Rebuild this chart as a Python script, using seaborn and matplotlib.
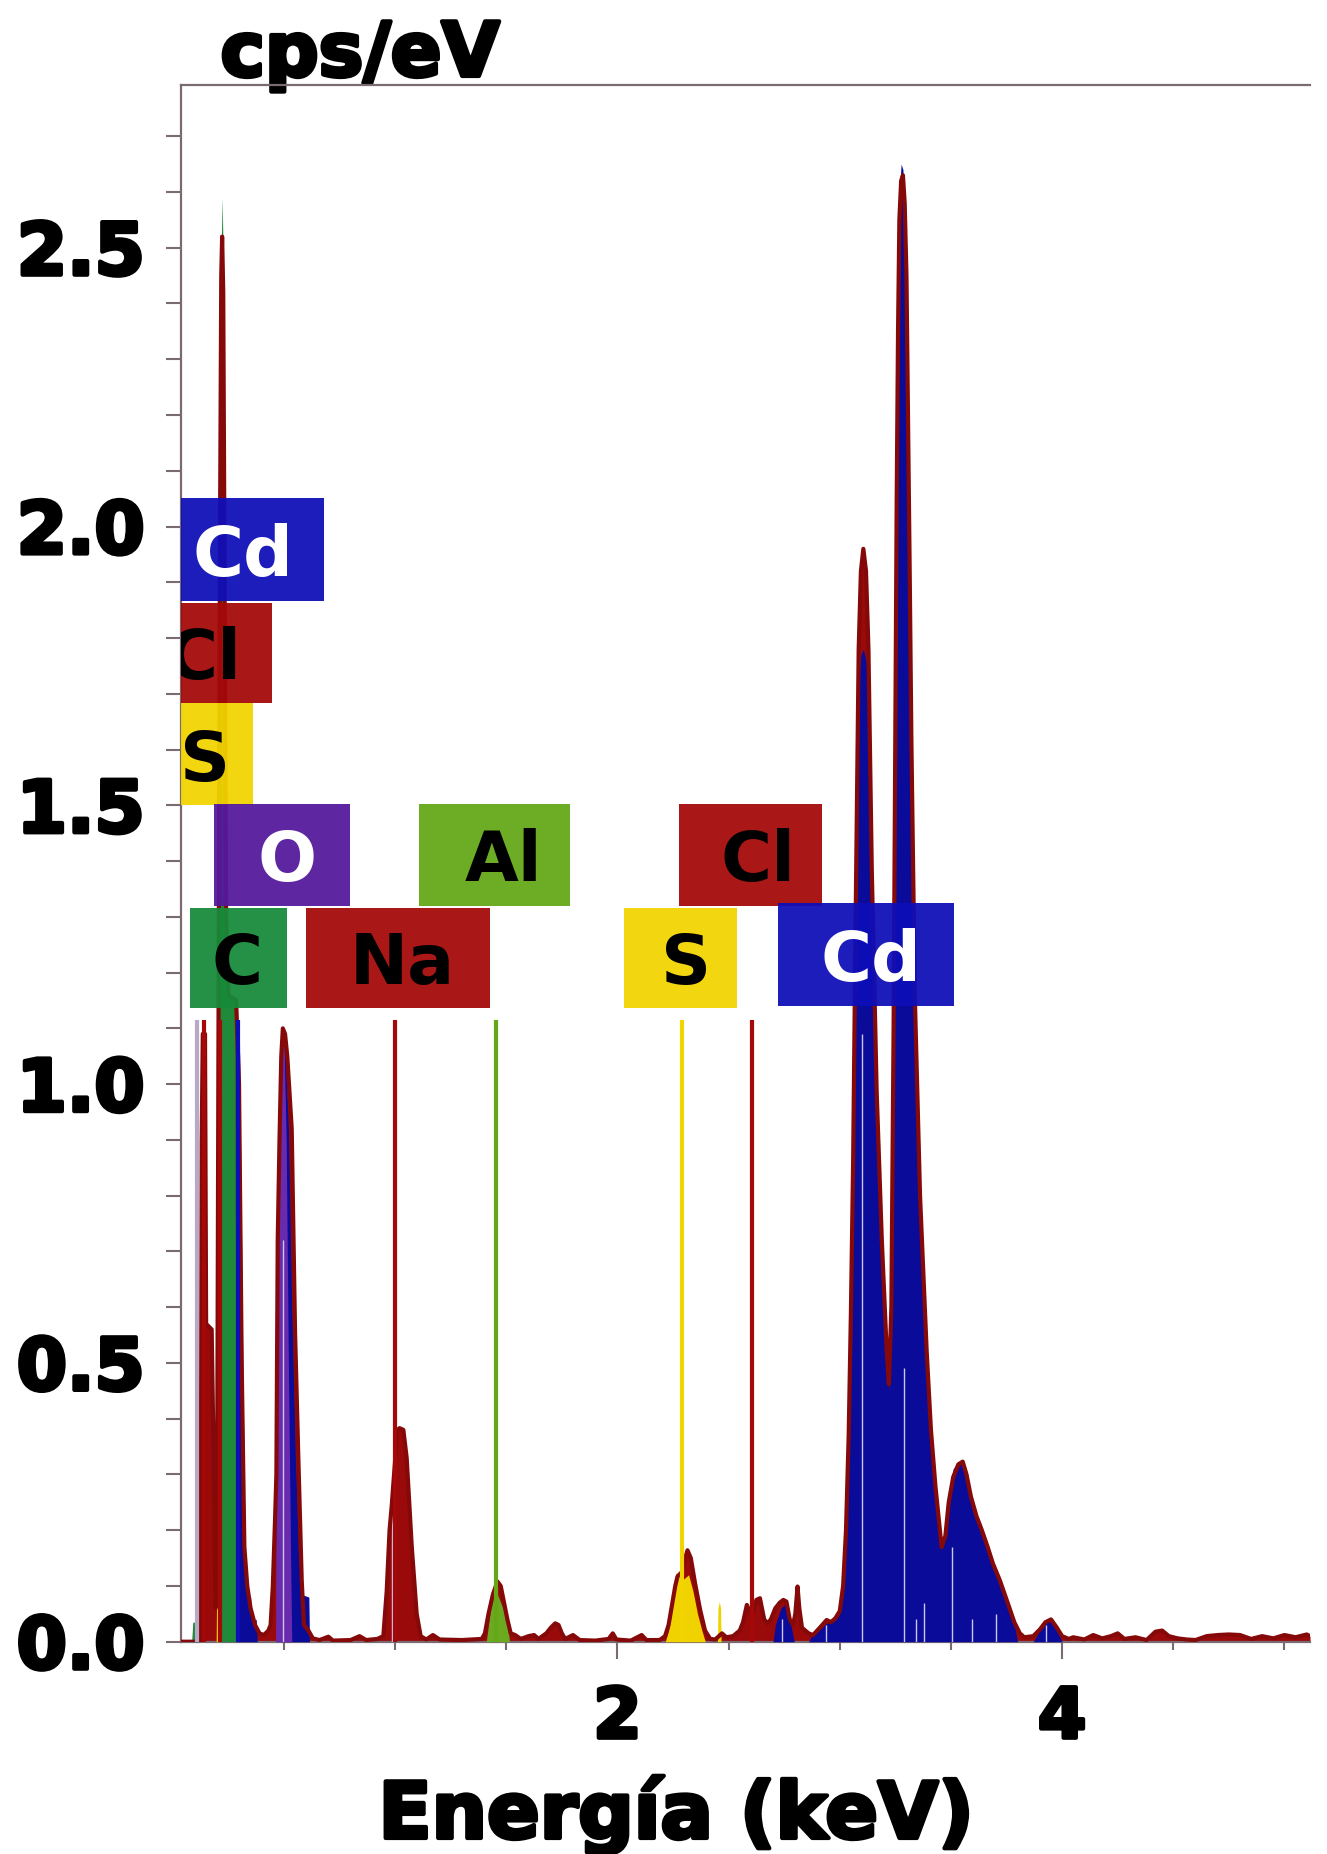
import numpy as np
import pandas as pd
import matplotlib
matplotlib.use("Agg")
import matplotlib.pyplot as plt
import matplotlib.patheffects as pe
from matplotlib.patches import Rectangle
from matplotlib.ticker import FixedLocator, MultipleLocator
import seaborn as sns

# ---------------- data ----------------
# measured spectrum (outline): energy in keV, counts in cps/eV
spec_E = [0.037, 0.09, 0.125, 0.13, 0.135, 0.145, 0.15, 0.175, 0.185, 0.192, 0.198,
          0.205, 0.212, 0.218, 0.222, 0.227, 0.233, 0.24, 0.25, 0.285, 0.298, 0.31,
          0.322, 0.335, 0.35, 0.37, 0.39, 0.41, 0.43, 0.44, 0.45, 0.46, 0.466, 0.472,
          0.48, 0.488, 0.495, 0.505, 0.515, 0.535, 0.55, 0.565, 0.58, 0.59, 0.61, 0.63,
          0.66, 0.7, 0.72, 0.8, 0.84, 0.87, 0.92, 0.947, 0.962, 0.975, 0.985, 0.995,
          1.01, 1.02, 1.037, 1.052, 1.075, 1.097, 1.115, 1.14, 1.17, 1.2, 1.3, 1.39,
          1.404, 1.42, 1.44, 1.46, 1.475, 1.49, 1.505, 1.52, 1.54, 1.565, 1.6, 1.625,
          1.645, 1.68, 1.7, 1.72, 1.735, 1.75, 1.765, 1.8, 1.83, 1.9, 1.96, 1.979,
          1.995, 2.06, 2.109, 2.13, 2.19, 2.214, 2.23, 2.244, 2.26, 2.27, 2.29, 2.305,
          2.315, 2.33, 2.349, 2.372, 2.394, 2.417, 2.44, 2.47, 2.49, 2.52, 2.55, 2.565,
          2.582, 2.6, 2.612, 2.625, 2.641, 2.66, 2.675, 2.69, 2.71, 2.73, 2.746, 2.76,
          2.775, 2.79, 2.8, 2.81, 2.818, 2.83, 2.86, 2.88, 2.91, 2.941, 2.96, 2.98,
          3.0, 3.015, 3.028, 3.04, 3.05, 3.06, 3.07, 3.085, 3.095, 3.106, 3.118, 3.129,
          3.144, 3.166, 3.189, 3.211, 3.221, 3.232, 3.242, 3.25, 3.256, 3.262, 3.268,
          3.276, 3.284, 3.292, 3.3, 3.307, 3.315, 3.322, 3.338, 3.361, 3.391, 3.41,
          3.43, 3.458, 3.475, 3.49, 3.51, 3.533, 3.553, 3.57, 3.59, 3.615, 3.639,
          3.665, 3.689, 3.72, 3.755, 3.785, 3.81, 3.83, 3.87, 3.9, 3.925, 3.95, 3.975,
          4.0, 4.03, 4.05, 4.1, 4.14, 4.18, 4.22, 4.25, 4.28, 4.33, 4.38, 4.42, 4.45,
          4.48, 4.52, 4.56, 4.6, 4.65, 4.7, 4.75, 4.8, 4.85, 4.9, 4.95, 5.0, 5.05,
          5.1, 5.115]
spec_V = [0.0, 0.0, 0.0, 0.9, 1.09, 1.09, 0.57, 0.56, 0.3, 0.06, 0.08,
          1.0, 1.95, 2.45, 2.52, 2.42, 1.9, 1.3, 1.16, 1.15, 1.0, 0.5,
          0.17, 0.1, 0.06, 0.03, 0.015, 0.012, 0.02, 0.03, 0.1, 0.22, 0.3, 0.72,
          0.9, 1.05, 1.1, 1.09, 1.05, 0.92, 0.555, 0.326, 0.11, 0.03, 0.02, 0.006,
          0.003, 0.009, 0.002, 0.003, 0.01, 0.003, 0.005, 0.01, 0.09, 0.2, 0.245, 0.3,
          0.38, 0.383, 0.38, 0.33, 0.17, 0.05, 0.01, 0.004, 0.012, 0.004, 0.003, 0.005,
          0.015, 0.05, 0.085, 0.108, 0.1, 0.07, 0.04, 0.015, 0.012, 0.005, 0.01, 0.012,
          0.005, 0.015, 0.025, 0.033, 0.03, 0.015, 0.005, 0.012, 0.003, 0.002, 0.005, 0.015,
          0.004, 0.002, 0.012, 0.003, 0.003, 0.01, 0.03, 0.063, 0.1, 0.117, 0.125, 0.15,
          0.164, 0.15, 0.105, 0.057, 0.02, 0.005, 0.004, 0.015, 0.008, 0.01, 0.02, 0.035,
          0.066, 0.05, 0.055, 0.075, 0.078, 0.04, 0.033, 0.04, 0.06, 0.07, 0.075, 0.072,
          0.04, 0.03, 0.05, 0.099, 0.06, 0.025, 0.015, 0.012, 0.025, 0.039, 0.035, 0.042,
          0.055, 0.1, 0.2, 0.37, 0.59, 0.86, 1.25, 1.78, 1.92, 1.96, 1.92, 1.78,
          1.384, 0.986, 0.721, 0.522, 0.462, 0.6, 1.1, 1.65, 2.05, 2.35, 2.55,
          2.62, 2.63, 2.58, 2.45, 2.2, 1.9, 1.62, 1.15, 0.8, 0.52, 0.38,
          0.28, 0.17, 0.19, 0.25, 0.295, 0.318, 0.323, 0.3, 0.26, 0.225, 0.2,
          0.17, 0.14, 0.11, 0.07, 0.035, 0.015, 0.008, 0.01, 0.022, 0.035, 0.04, 0.026,
          0.01, 0.005, 0.008, 0.004, 0.012, 0.006, 0.01, 0.015, 0.005, 0.008, 0.003, 0.018, 0.02,
          0.01, 0.006, 0.004, 0.003, 0.01, 0.012, 0.013, 0.012, 0.005, 0.01, 0.006, 0.012, 0.008,
          0.013, 0.01]

# Cd contribution (blue fill)
cd_E = [0.285, 0.29, 0.3, 0.315, 0.325, 0.335, 0.35, 0.355, 0.375, 0.38,
        0.488, 0.495, 0.505, 0.52, 0.535, 0.55, 0.565, 0.578, 0.612, 0.615,
        2.7, 2.71, 2.735, 2.75, 2.77, 2.785, 2.795, 2.86, 2.87, 2.9, 2.94, 2.98,
        3.0, 3.015, 3.028, 3.04, 3.05, 3.06, 3.07, 3.085, 3.095, 3.106, 3.118, 3.129,
        3.144, 3.166, 3.189, 3.211, 3.221, 3.232, 3.242, 3.25, 3.256, 3.262, 3.268,
        3.276, 3.284, 3.292, 3.3, 3.307, 3.315, 3.322, 3.338, 3.361, 3.391, 3.41,
        3.43, 3.458, 3.475, 3.49, 3.51, 3.533, 3.553, 3.57, 3.59, 3.615, 3.639,
        3.665, 3.689, 3.72, 3.755, 3.785, 3.8, 3.87, 3.9, 3.925, 3.95, 3.975, 4.0]
cd_V = [0.0, 1.1, 1.08, 0.5, 0.17, 0.09, 0.08, 0.04, 0.04, 0.0,
        0.0, 1.0, 1.06, 0.92, 0.6, 0.35, 0.16, 0.085, 0.08, 0.0,
        0.0, 0.03, 0.06, 0.066, 0.055, 0.02, 0.0, 0.0, 0.008, 0.018, 0.033, 0.038,
        0.05, 0.095, 0.19, 0.36, 0.58, 0.85, 1.24, 1.72, 1.77, 1.78, 1.76, 1.7,
        1.37, 0.975, 0.71, 0.51, 0.45, 0.59, 1.09, 1.64, 2.05, 2.4, 2.6,
        2.65, 2.64, 2.55, 2.42, 2.18, 1.88, 1.6, 1.14, 0.79, 0.51, 0.375,
        0.275, 0.165, 0.2, 0.27, 0.31, 0.322, 0.315, 0.29, 0.255, 0.225, 0.2,
        0.165, 0.135, 0.105, 0.065, 0.03, 0.0, 0.0, 0.02, 0.035, 0.038, 0.022, 0.0]

# O contribution (purple fill)
o_E = [0.462, 0.466, 0.47, 0.48, 0.488, 0.495, 0.5, 0.51, 0.52, 0.53, 0.535]
o_V = [0.0, 0.3, 0.72, 0.9, 1.05, 1.1, 1.08, 0.9, 0.5, 0.15, 0.0]

# C contribution (green fill)
c_E = [0.085, 0.09, 0.118, 0.12, 0.2, 0.205, 0.212, 0.218, 0.222, 0.226, 0.233,
       0.24, 0.25, 0.28, 0.285]
c_V = [0.0, 0.035, 0.035, 0.0, 0.0, 0.9, 1.95, 2.5, 2.59, 2.5, 1.95,
       1.3, 1.16, 1.15, 0.0]

# Al contribution (light green fill)
al_E = [1.41, 1.42, 1.435, 1.455, 1.47, 1.49, 1.505, 1.515]
al_V = [0.0, 0.03, 0.075, 0.09, 0.075, 0.055, 0.03, 0.0]

# S contribution (yellow fill)
s_E = [0.195, 0.197, 0.205, 0.207, 2.215, 2.23, 2.25, 2.262, 2.278, 2.29, 2.305,
       2.32, 2.34, 2.36, 2.38, 2.395, 2.45, 2.452, 2.458, 2.464, 2.466]
s_V = [0.0, 0.07, 0.07, 0.0, 0.0, 0.02, 0.07, 0.123, 0.123, 0.11, 0.115,
       0.12, 0.09, 0.05, 0.02, 0.0, 0.0, 0.06, 0.072, 0.06, 0.0]

# element line markers
marker_E = [0.108, 0.14, 0.213, 0.295, 1.0, 1.454, 2.289, 2.607]
marker_el = ["x", "Cl", "Cl", "Cd", "Na", "Al", "S", "Cl"]
marker_top = 1.115

# thin light lines inside the peaks
fine_E = [0.497, 0.985, 2.742, 2.936, 3.10, 3.288, 3.345, 3.38, 3.504, 3.595, 3.702, 3.929]
fine_top = [0.72, 0.245, 0.04, 0.03, 1.09, 0.49, 0.04, 0.07, 0.17, 0.04, 0.05, 0.03]

# element label boxes: text, x0, x1 (keV), y0, y1 (cps/eV), text x
box_text = ["Cd", "Cl", "S", "O", "Al", "Cl", "C", "Na", "S", "Cd"]
box_x0 = [-0.053, -0.101, -0.064, 0.184, 1.107, 2.279, 0.077, 0.600, 2.029, 2.724]
box_x1 = [0.681, 0.447, 0.362, 0.796, 1.786, 2.922, 0.512, 1.429, 2.536, 3.512]
box_y0 = [1.867, 1.684, 1.500, 1.320, 1.320, 1.320, 1.137, 1.137, 1.137, 1.140]
box_y1 = [2.052, 1.863, 1.684, 1.502, 1.502, 1.502, 1.316, 1.316, 1.316, 1.325]
box_tx = [0.314, 0.140, 0.145, 0.516, 1.489, 2.633, 0.287, 1.032, 2.309, 3.138]

ytick_vals = [0.0, 0.5, 1.0, 1.5, 2.0, 2.5]
ytick_labels = ["0.0", "0.5", "1.0", "1.5", "2.0", "2.5"]
xtick_vals = [2, 4]
xtick_labels = ["2", "4"]
xminor_vals = [0.5, 1.0, 1.5, 2.5, 3.0, 3.5, 4.5, 5.0]

# ---------------- styling ----------------
OUTLINE = "#860909"
RED_FILL = "#9A0A0A"
BLUE_FILL = "#0B0B9A"
el_color = {"Cd": "#0E0EB8", "Cl": "#A50808", "Na": "#A50808", "S": "#F2D400",
            "O": "#55189C", "Al": "#64A818", "C": "#178A3A", "x": "#B8A8C8"}
text_color = {"Cd": "white", "O": "white"}
SPINE = "#7a6a72"

sns.set_theme(style="white")
plt.rcParams["font.family"] = ["DejaVu Sans"]

fig = plt.figure(figsize=(13.27, 18.54), dpi=100)
fig.patch.set_facecolor("white")
ax = fig.add_axes([0.1364, 0.1145, 0.8508, 0.8397])
ax.set_facecolor("white")

# fills
ax.fill_between(spec_E, spec_V, 0, color=RED_FILL, lw=0, zorder=2)
ax.fill_between(cd_E, cd_V, 0, color=BLUE_FILL, lw=0, zorder=3)
ax.fill_between(o_E, o_V, 0, color="#6A2AAE", lw=0, zorder=3)
ax.fill_between(c_E, c_V, 0, color="#1E8A3A", lw=0, zorder=3)
ax.fill_between(al_E, al_V, 0, color="#6BAA20", lw=0, zorder=3)
ax.fill_between(s_E, s_V, 0, color="#F0D200", lw=0, zorder=3)

ax.vlines(fine_E, 0, fine_top, colors="#cbc6f0", lw=1.0, zorder=4)

# measured spectrum outline
df = pd.DataFrame({"E": spec_E, "V": spec_V})
sns.lineplot(data=df, x="E", y="V", color=OUTLINE, lw=3.0, estimator=None,
             sort=False, ax=ax, zorder=5)

# element markers
ax.vlines(marker_E, 0, marker_top, colors=[el_color[e] for e in marker_el],
          lw=3.0, zorder=6)

# label boxes
for t, x0, x1, y0, y1, tx in zip(box_text, box_x0, box_x1, box_y0, box_y1, box_tx):
    r = Rectangle((x0, y0), x1 - x0, y1 - y0, facecolor=el_color[t], edgecolor="none",
                  alpha=0.94, zorder=7, clip_on=True)
    ax.add_patch(r)
    ax.text(tx, (y0 + y1) / 2, t, ha="center", va="center_baseline",
            fontsize=50, fontweight="bold", color=text_color.get(t, "black"),
            zorder=8, clip_on=True)

# axes limits and ticks
ax.set_xlim(0.037, 5.115)
ax.set_ylim(0, 2.792)
ax.yaxis.set_major_locator(FixedLocator(ytick_vals))
ax.yaxis.set_minor_locator(MultipleLocator(0.1))
ax.set_yticklabels(ytick_labels)
ax.xaxis.set_major_locator(FixedLocator(xtick_vals))
ax.xaxis.set_minor_locator(FixedLocator(xminor_vals))
ax.set_xticklabels(xtick_labels)

ax.tick_params(axis="y", which="both", direction="out", length=11, width=1.5,
               color=SPINE, pad=15, labelsize=52, left=True)
ax.tick_params(axis="x", which="major", direction="out", length=12, width=1.5,
               color=SPINE, pad=19, labelsize=50, bottom=True)
ax.tick_params(axis="x", which="minor", direction="out", length=6, width=1.5,
               color=SPINE, bottom=True)

stroke = [pe.withStroke(linewidth=3, foreground="black")]
for lab in ax.get_xticklabels() + ax.get_yticklabels():
    lab.set_fontweight("bold")
    lab.set_color("black")
    lab.set_path_effects(stroke)

for side in ["left", "top", "bottom"]:
    ax.spines[side].set_visible(True)
    ax.spines[side].set_color(SPINE)
    ax.spines[side].set_linewidth(1.6)
ax.spines["right"].set_visible(False)

ax.set_xlabel("Energía (keV)", fontsize=56, fontweight="bold", color="black",
              va="baseline", path_effects=stroke)
ax.xaxis.set_label_coords(676 / 1327, 1 - 1838 / 1854, transform=fig.transFigure)
ax.set_ylabel("cps/eV", fontsize=54, fontweight="bold", color="black", rotation=0,
              ha="center", va="baseline", path_effects=stroke)
ax.yaxis.set_label_coords(360 / 1327, 1 - 76 / 1854, transform=fig.transFigure)

fig.savefig("out.png", dpi=100, facecolor="white")
